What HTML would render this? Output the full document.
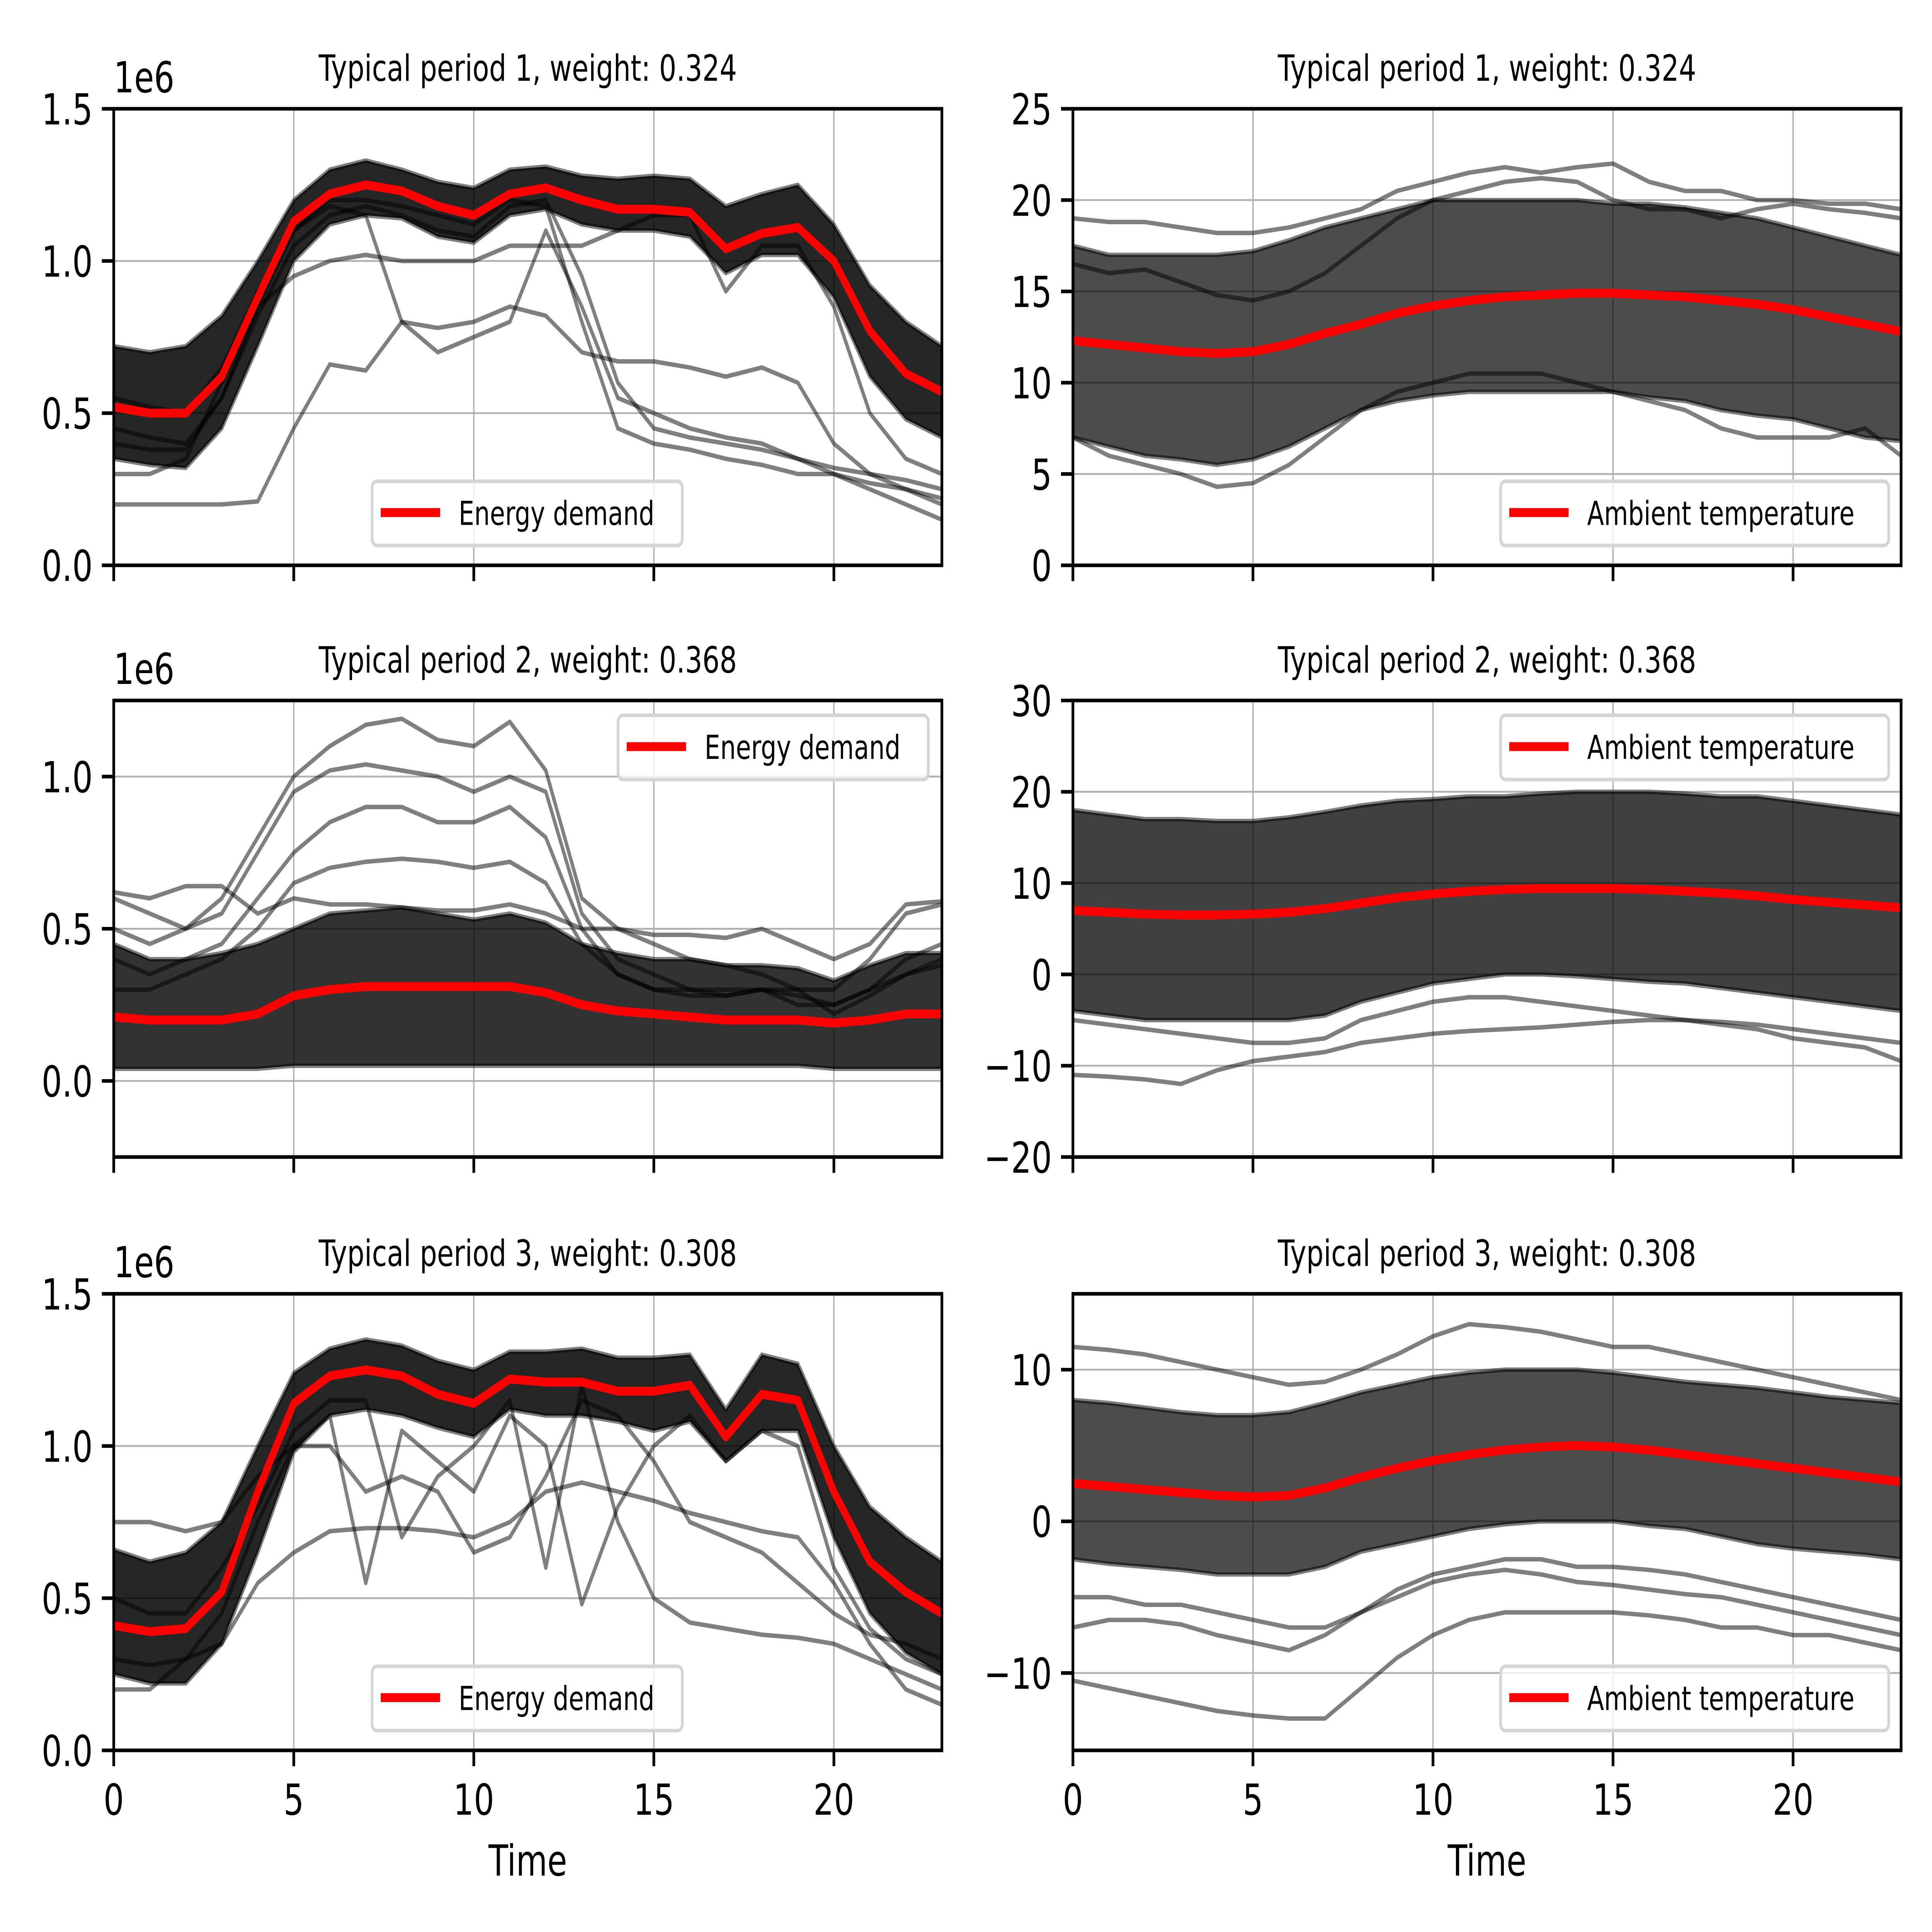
<!DOCTYPE html>
<html><head><meta charset="utf-8">
<style>html,body{margin:0;padding:0;background:#fff;width:100vw;height:100vh;overflow:hidden}svg{display:block;width:100vw;height:100vh}</style></head>
<body>
<svg id="fig" xmlns="http://www.w3.org/2000/svg" width="100%" height="100%" viewBox="0 0 1563 1172.2" preserveAspectRatio="none" font-family="DejaVu Sans, Liberation Sans, sans-serif">
<rect width="1563" height="1173" fill="#fff"/>
</svg>
<script>
// ---------- data (x = hour 0..23) ----------
const hours = [0,1,2,3,4,5,6,7,8,9,10,11,12,13,14,15,16,17,18,19,20,21,22,23];
const xTicks = [0,5,10,15,20];
const titles = ["Typical period 1, weight: 0.324","Typical period 2, weight: 0.368","Typical period 3, weight: 0.308"];

// Energy demand (units of 1e6)
const e1Mean = [0.52,0.50,0.50,0.62,0.88,1.13,1.22,1.25,1.23,1.18,1.15,1.22,1.24,1.20,1.17,1.17,1.16,1.04,1.09,1.11,1.00,0.77,0.63,0.57];
const e1Upper = [0.72,0.70,0.72,0.82,1.00,1.20,1.30,1.33,1.30,1.26,1.24,1.30,1.31,1.28,1.27,1.28,1.27,1.18,1.22,1.25,1.12,0.92,0.80,0.72];
const e1Lower = [0.35,0.33,0.32,0.45,0.72,1.00,1.12,1.15,1.14,1.08,1.06,1.15,1.17,1.12,1.10,1.10,1.08,0.96,1.02,1.02,0.88,0.62,0.48,0.42];
const e1Out1 = [0.20,0.20,0.20,0.20,0.21,0.45,0.66,0.64,0.80,0.78,0.80,0.85,0.82,0.70,0.67,0.67,0.65,0.62,0.65,0.60,0.40,0.30,0.25,0.22];
const e1Out2 = [0.45,0.42,0.40,0.55,0.85,1.10,1.20,1.20,1.18,1.15,1.12,1.20,1.18,0.80,0.45,0.40,0.38,0.35,0.33,0.30,0.30,0.27,0.25,0.20];
const e1Out3 = [0.55,0.52,0.50,0.65,0.90,1.10,1.18,1.15,0.80,0.70,0.75,0.80,1.10,0.85,0.55,0.50,0.45,0.42,0.40,0.35,0.30,0.25,0.20,0.15];
const e1Out4 = [0.30,0.30,0.35,0.60,0.85,0.95,1.00,1.02,1.00,1.00,1.00,1.05,1.05,1.05,1.10,1.15,1.15,0.90,1.05,1.05,0.85,0.50,0.35,0.30];
const e1Out5 = [0.40,0.38,0.38,0.55,0.82,1.05,1.15,1.18,1.15,1.10,1.08,1.18,1.20,0.95,0.60,0.45,0.42,0.40,0.38,0.35,0.32,0.30,0.28,0.25];

const e2Mean = [0.21,0.20,0.20,0.20,0.22,0.28,0.30,0.31,0.31,0.31,0.31,0.31,0.29,0.25,0.23,0.22,0.21,0.20,0.20,0.20,0.19,0.20,0.22,0.22];
const e2Upper = [0.45,0.40,0.40,0.42,0.45,0.50,0.55,0.56,0.57,0.55,0.53,0.55,0.52,0.45,0.42,0.40,0.40,0.38,0.38,0.37,0.33,0.38,0.42,0.42];
const e2Lower = [0.04,0.04,0.04,0.04,0.04,0.05,0.05,0.05,0.05,0.05,0.05,0.05,0.05,0.05,0.05,0.05,0.05,0.05,0.05,0.05,0.04,0.04,0.04,0.04];
const e2Out1 = [0.50,0.45,0.50,0.60,0.80,1.00,1.10,1.17,1.19,1.12,1.10,1.18,1.02,0.60,0.50,0.45,0.40,0.38,0.35,0.30,0.30,0.40,0.55,0.58];
const e2Out2 = [0.60,0.55,0.50,0.55,0.75,0.95,1.02,1.04,1.02,1.00,0.95,1.00,0.95,0.55,0.40,0.35,0.30,0.30,0.30,0.28,0.25,0.30,0.40,0.45];
const e2Out3 = [0.40,0.35,0.40,0.45,0.60,0.75,0.85,0.90,0.90,0.85,0.85,0.90,0.80,0.50,0.35,0.30,0.30,0.28,0.30,0.25,0.25,0.30,0.35,0.40];
const e2Out4 = [0.30,0.30,0.35,0.40,0.50,0.65,0.70,0.72,0.73,0.72,0.70,0.72,0.65,0.45,0.35,0.30,0.28,0.28,0.30,0.30,0.22,0.28,0.35,0.38];
const e2Out5 = [0.62,0.60,0.64,0.64,0.55,0.60,0.58,0.58,0.57,0.56,0.56,0.58,0.55,0.50,0.50,0.48,0.48,0.47,0.50,0.45,0.40,0.45,0.58,0.59];

const e3Mean = [0.41,0.39,0.40,0.52,0.85,1.14,1.23,1.25,1.23,1.17,1.14,1.22,1.21,1.21,1.18,1.18,1.20,1.03,1.17,1.15,0.85,0.62,0.52,0.45];
const e3Upper = [0.66,0.62,0.65,0.75,1.00,1.24,1.32,1.35,1.33,1.28,1.25,1.31,1.31,1.32,1.29,1.29,1.30,1.12,1.30,1.27,1.00,0.80,0.70,0.62];
const e3Lower = [0.25,0.22,0.22,0.35,0.65,0.98,1.10,1.12,1.10,1.06,1.03,1.12,1.10,1.10,1.08,1.05,1.08,0.95,1.05,1.05,0.70,0.45,0.32,0.25];
const e3Out1 = [0.20,0.20,0.30,0.35,0.55,0.65,0.72,0.73,0.73,0.72,0.70,0.75,0.85,0.88,0.85,0.82,0.78,0.75,0.72,0.70,0.55,0.35,0.20,0.15];
const e3Out2 = [0.30,0.28,0.30,0.45,0.75,1.00,1.10,0.55,1.05,0.95,0.85,1.10,1.00,0.48,0.80,1.00,1.10,0.95,1.05,1.00,0.60,0.40,0.30,0.25];
const e3Out3 = [0.50,0.45,0.45,0.60,0.80,1.05,1.15,1.15,0.70,0.90,1.00,1.15,0.60,1.20,0.75,0.50,0.42,0.40,0.38,0.37,0.35,0.30,0.25,0.20];
const e3Out4 = [0.75,0.75,0.72,0.75,0.90,1.00,1.00,0.85,0.90,0.85,0.65,0.70,0.90,1.15,1.10,0.95,0.75,0.70,0.65,0.55,0.45,0.38,0.35,0.30];

// Ambient temperature
const t1Mean = [12.3,12.1,11.9,11.7,11.6,11.7,12.1,12.7,13.2,13.8,14.2,14.5,14.7,14.8,14.9,14.9,14.8,14.7,14.5,14.3,14.0,13.6,13.2,12.8];
const t1Upper = [17.5,17.0,17.0,17.0,17.0,17.2,17.8,18.5,19.0,19.5,20.0,20.0,20.0,20.0,20.0,19.8,19.8,19.6,19.3,19.0,18.5,18.0,17.5,17.0];
const t1Lower = [7.0,6.5,6.0,5.8,5.5,5.8,6.5,7.5,8.5,9.0,9.3,9.5,9.5,9.5,9.5,9.5,9.2,9.0,8.5,8.2,8.0,7.5,7.0,6.8];
const t1Out1 = [19.0,18.8,18.8,18.5,18.2,18.2,18.5,19.0,19.5,20.5,21.0,21.5,21.8,21.5,21.8,22.0,21.0,20.5,20.5,20.0,20.0,19.8,19.8,19.5];
const t1Out2 = [7.0,6.0,5.5,5.0,4.3,4.5,5.5,7.0,8.5,9.5,10.0,10.5,10.5,10.5,10.0,9.5,9.0,8.5,7.5,7.0,7.0,7.0,7.5,6.0];
const t1Out3 = [16.5,16.0,16.2,15.5,14.8,14.5,15.0,16.0,17.5,19.0,20.0,20.5,21.0,21.2,21.0,20.0,19.5,19.5,19.0,19.5,19.8,19.5,19.3,19.0];

const t2Mean = [7.0,6.8,6.6,6.5,6.5,6.6,6.8,7.2,7.8,8.4,8.8,9.1,9.3,9.4,9.4,9.4,9.3,9.1,8.9,8.6,8.2,7.9,7.6,7.3];
const t2Upper = [18.0,17.5,17.0,17.0,16.8,16.8,17.2,17.8,18.5,19.0,19.2,19.5,19.5,19.8,20.0,20.0,20.0,19.8,19.5,19.5,19.0,18.5,18.0,17.5];
const t2Lower = [-4.0,-4.5,-5.0,-5.0,-5.0,-5.0,-5.0,-4.5,-3.0,-2.0,-1.0,-0.5,0.0,0.0,-0.2,-0.5,-0.8,-1.0,-1.5,-2.0,-2.5,-3.0,-3.5,-4.0];
const t2Out1 = [-11.0,-11.2,-11.5,-12.0,-10.5,-9.5,-9.0,-8.5,-7.5,-7.0,-6.5,-6.2,-6.0,-5.8,-5.5,-5.2,-5.0,-5.0,-5.2,-5.5,-6.0,-6.5,-7.0,-7.5];
const t2Out2 = [-5.0,-5.5,-6.0,-6.5,-7.0,-7.5,-7.5,-7.0,-5.0,-4.0,-3.0,-2.5,-2.5,-3.0,-3.5,-4.0,-4.5,-5.0,-5.5,-6.0,-7.0,-7.5,-8.0,-9.5];

const t3Mean = [2.5,2.3,2.1,1.9,1.7,1.6,1.7,2.2,2.9,3.5,4.0,4.4,4.7,4.9,5.0,4.9,4.7,4.4,4.1,3.8,3.5,3.2,2.9,2.6];
const t3Upper = [8.0,7.8,7.5,7.2,7.0,7.0,7.2,7.8,8.5,9.0,9.5,9.8,10.0,10.0,10.0,9.8,9.5,9.2,9.0,8.8,8.5,8.2,8.0,7.8];
const t3Lower = [-2.5,-2.8,-3.0,-3.2,-3.5,-3.5,-3.5,-3.0,-2.0,-1.5,-1.0,-0.5,-0.2,0.0,0.0,0.0,-0.3,-0.5,-1.0,-1.5,-1.8,-2.0,-2.2,-2.5];
const t3Out1 = [-10.5,-11.0,-11.5,-12.0,-12.5,-12.8,-13.0,-13.0,-11.0,-9.0,-7.5,-6.5,-6.0,-6.0,-6.0,-6.0,-6.2,-6.5,-7.0,-7.0,-7.5,-7.5,-8.0,-8.5];
const t3Out2 = [-5.0,-5.0,-5.5,-5.5,-6.0,-6.5,-7.0,-7.0,-6.0,-5.0,-4.0,-3.5,-3.2,-3.5,-4.0,-4.2,-4.5,-4.8,-5.0,-5.5,-6.0,-6.5,-7.0,-7.5];
const t3Out3 = [11.5,11.3,11.0,10.5,10.0,9.5,9.0,9.2,10.0,11.0,12.2,13.0,12.8,12.5,12.0,11.5,11.5,11.0,10.5,10.0,9.5,9.0,8.5,8.0];
const t3Out4 = [-7.0,-6.5,-6.5,-6.8,-7.5,-8.0,-8.5,-7.5,-6.0,-4.5,-3.5,-3.0,-2.5,-2.5,-3.0,-3.0,-3.2,-3.5,-4.0,-4.5,-5.0,-5.5,-6.0,-6.5];

// ---------- drawing ----------
const NS = "http://www.w3.org/2000/svg";
const svg = document.getElementById("fig");
function mk(tag, attrs, parent){ const e=document.createElementNS(NS,tag); for(const k in attrs) e.setAttribute(k,attrs[k]); (parent||svg).appendChild(e); return e; }

const panels = [
 {x0:92,x1:762,y0:66,y1:343,ymin:0,ymax:1.5,yt:[0,0.5,1.0,1.5],dec:1,mean:e1Mean,up:e1Upper,lo:e1Lower,outs:[e1Out1,e1Out2,e1Out3,e1Out4,e1Out5],leg:"Energy demand",legX:301,legY:292,legW:251,t:0,off:true,bandOp:0.85,xl:false},
 {x0:868,x1:1538,y0:66,y1:343,ymin:0,ymax:25,yt:[0,5,10,15,20,25],dec:0,mean:t1Mean,up:t1Upper,lo:t1Lower,outs:[t1Out1,t1Out2,t1Out3],leg:"Ambient temperature",legX:1214,legY:292,legW:314,t:0,off:false,bandOp:0.7,xl:false},
 {x0:92,x1:762,y0:425,y1:702,ymin:-0.25,ymax:1.25,yt:[0,0.5,1.0],dec:1,mean:e2Mean,up:e2Upper,lo:e2Lower,outs:[e2Out1,e2Out2,e2Out3,e2Out4,e2Out5],leg:"Energy demand",legX:500,legY:434,legW:251,t:1,off:true,bandOp:0.8,xl:false},
 {x0:868,x1:1538,y0:425,y1:702,ymin:-20,ymax:30,yt:[-20,-10,0,10,20,30],dec:0,mean:t2Mean,up:t2Upper,lo:t2Lower,outs:[t2Out1,t2Out2],leg:"Ambient temperature",legX:1214,legY:434,legW:314,t:1,off:false,bandOp:0.75,xl:false},
 {x0:92,x1:762,y0:785,y1:1062,ymin:0,ymax:1.5,yt:[0,0.5,1.0,1.5],dec:1,mean:e3Mean,up:e3Upper,lo:e3Lower,outs:[e3Out1,e3Out2,e3Out3,e3Out4],leg:"Energy demand",legX:301,legY:1011,legW:251,t:2,off:true,bandOp:0.85,xl:true},
 {x0:868,x1:1538,y0:785,y1:1062,ymin:-15.1,ymax:15,yt:[-10,0,10],dec:0,mean:t3Mean,up:t3Upper,lo:t3Lower,outs:[t3Out1,t3Out2,t3Out3,t3Out4],leg:"Ambient temperature",legX:1214,legY:1011,legW:314,t:2,off:false,bandOp:0.7,xl:true}
];

panels.forEach((p,i)=>{
  const g = mk("g",{});
  
  
  const sx = v => p.x0 + (v-0)/(23-0)*(p.x1-p.x0);
  const sy = v => p.y1 - (v-p.ymin)/(p.ymax-p.ymin)*(p.y1-p.y0);
  const clipId = "clip"+i;
  const cp = mk("clipPath",{id:clipId},g); mk("rect",{x:p.x0,y:p.y0,width:p.x1-p.x0,height:p.y1-p.y0},cp);
  xTicks.forEach(t=>{ const l=mk("line",{x1:sx(t),x2:sx(t),y1:p.y0,y2:p.y1,stroke:"#b0b0b0","stroke-width":1.1},g);
      });
  p.yt.forEach(t=>{ const l=mk("line",{x1:p.x0,x2:p.x1,y1:sy(t),y2:sy(t),stroke:"#b0b0b0","stroke-width":1.1},g);
      });
  const data = mk("g",{"clip-path":"url(#"+clipId+")"},g);
  let d = hours.map((h,k)=>(k?"L":"M")+sx(h)+","+sy(p.up[k])).join("") + hours.slice().reverse().map(h=>"L"+sx(h)+","+sy(p.lo[h])).join("")+"Z";
  const band = mk("path",{d:d,fill:"#000","fill-opacity":p.bandOp,stroke:"#000","stroke-opacity":0.5,"stroke-width":2.7,"stroke-linejoin":"round"},data);
  
  
  p.outs.forEach(arr=>{
    const pl = mk("polyline",{points:hours.map((h,k)=>sx(h)+","+sy(arr[k])).join(" "),fill:"none",stroke:"#000","stroke-opacity":0.5,"stroke-width":2.7,"stroke-linejoin":"round"},data);
    
    
  });
  const red = mk("polyline",{points:hours.map((h,k)=>sx(h)+","+sy(p.mean[k])).join(" "),fill:"none",stroke:"#ff0000","stroke-width":5.4,"stroke-linejoin":"round"},data);
  
  
  const fr = mk("rect",{x:p.x0,y:p.y0,width:p.x1-p.x0,height:p.y1-p.y0,fill:"none",stroke:"#000","stroke-width":2.2},g);
   
  xTicks.forEach(t=>{
    const tk=mk("line",{x1:sx(t),x2:sx(t),y1:p.y1,y2:p.y1+9.6,stroke:"#000","stroke-width":2.2},g);
     
    if(p.xl){ const tl=mk("text",{x:sx(t),y:p.y1+39,"font-size":26,"text-anchor":"middle",fill:"#000"},g); tl.textContent=String(t);
        }
  });
  p.yt.forEach(t=>{
    const tk=mk("line",{x1:p.x0-9.6,x2:p.x0,y1:sy(t),y2:sy(t),stroke:"#000","stroke-width":2.2},g);
     
    const tl=mk("text",{x:p.x0-17,y:sy(t)+9.5,"font-size":26,"text-anchor":"end",fill:"#000"},g);
    tl.textContent = (t<0?"\u2212":"")+Math.abs(t).toFixed(p.dec);
     
  });
  if(p.off){ const o=mk("text",{x:p.x0,y:p.y0-10,"font-size":26,fill:"#000"},g); o.textContent="1e6";
      }
  const tt=mk("text",{x:(p.x0+p.x1)/2,y:p.y0-17,"font-size":22,"text-anchor":"middle",fill:"#000"},g);
  tt.textContent = titles[p.t];
   
  const lg = mk("g",{},g);
   
  mk("rect",{x:p.legX,y:p.legY,width:p.legW,height:39,rx:4,fill:"#fff","fill-opacity":0.8,stroke:"#d5d5d5","stroke-width":2.2},lg);
  const ls=mk("line",{x1:p.legX+7,x2:p.legX+55,y1:p.legY+19,y2:p.legY+19,stroke:"#ff0000","stroke-width":5.4},lg);
   
  const lt=mk("text",{x:p.legX+70,y:p.legY+26.5,"font-size":20,fill:"#000"},lg); lt.textContent=p.leg;
   
  if(p.xl){ const xt=mk("text",{x:(p.x0+p.x1)/2,y:1138,"font-size":26,"text-anchor":"middle",fill:"#000"},g); xt.textContent="Time";
      }
});
</script>
</body></html>
